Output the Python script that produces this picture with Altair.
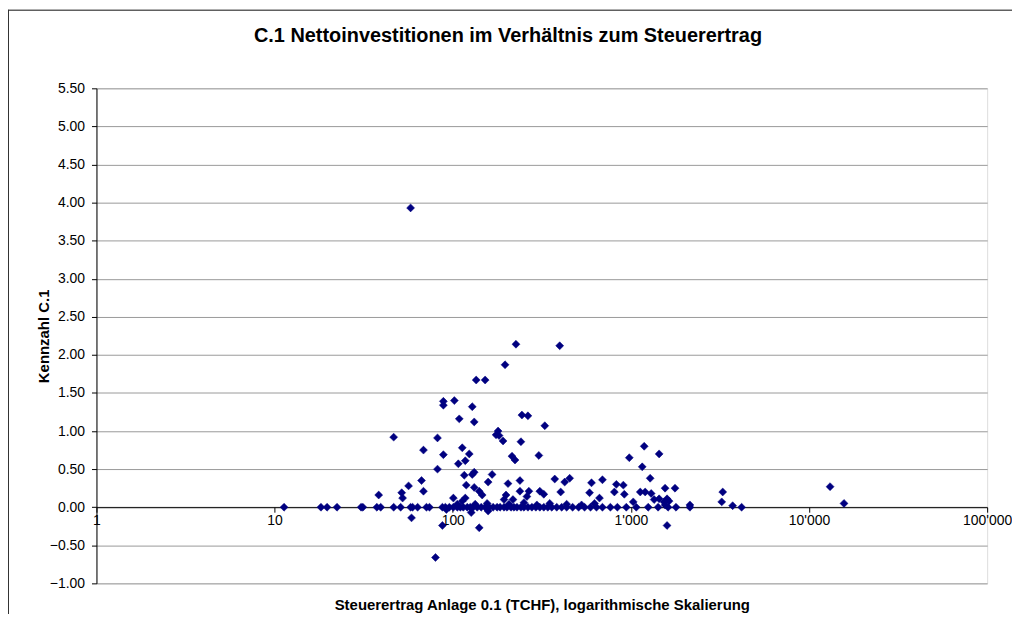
import altair as alt
import pandas as pd

# ---- data ----
# points lying on (or very near) the zero line: Steuerertrag (TCHF)
zero_ertrag = [11.3, 18.2, 19.7, 22.4, 30.6, 31.3, 37.5, 39.4, 46.6, 51.0, 58.0, 59.5, 63.5,
               71.2, 74.0, 87.5, 90.9, 95.7, 100.8, 106.1, 110.3, 114.6, 120.6, 125.4, 130.3,
               137.2, 144.4, 152.0, 160.0, 168.5, 177.4, 184.3, 194.1, 201.7, 212.3, 220.7,
               229.4, 241.4, 251.0, 264.2, 278.1, 292.8, 308.2, 324.5, 341.6, 359.6, 383.5,
               408.9, 436.0, 471.0, 508.8, 549.5, 593.5, 641.1, 692.4, 767.4, 839.8, 942.6,
               1072, 1251, 1422, 1617, 1792, 2145, 4184]
zero_kennzahl = [0.0] * len(zero_ertrag)

# other points: Steuerertrag (TCHF) and Kennzahl C.1
ertrag = [38.4, 46.6, 51.7, 52.3, 56.5, 58.7, 58.0, 66.8, 68.5, 68.5, 82.1, 82.1, 88.6, 88.6,
          88.6, 80.0, 87.5, 102.1, 108.8, 128.7, 132.0, 113.1, 123.8, 117.6, 107.5, 132.0,
          128.7, 116.1, 119.1, 135.4, 152.0, 175.1, 166.3, 158.0, 132.0, 140.8, 146.3, 100.8,
          113.1, 117.6, 140.8, 127.0, 226.4, 196.6, 244.5, 264.2, 328.7, 179.7, 182.0, 191.6,
          241.4, 215.1, 223.6, 304.3, 204.3, 238.3, 373.8, 453.3, 425.0, 199.1, 238.3, 267.6,
          308.2, 324.5, 260.8, 194.1, 217.8, 398.5, 403.6, 601.2, 692.4, 586.1, 666.3, 828.9,
          907.2, 807.9, 918.9, 979.7, 1188, 1158, 1441, 1283, 1129, 1203, 1031, 1300, 1351,
          1441, 1536, 1596, 1556, 1769, 1638, 1556, 2145, 1596, 3278, 3236, 3727, 13130, 15720,
          92.1, 158.0, 106.1, 133.7, 156.0, 206.9, 251.0, 296.6, 350.5, 436.0, 528.6, 625.0]
kennzahl = [0.16, 0.92, 0.19, 0.12, 0.28, -0.14, 3.93, 0.35, 0.21, 0.75, 0.91, 0.50, 0.69, 1.39,
            1.34, -0.66, -0.24, 1.40, 1.16, 1.32, 1.12, 0.78, 0.70, 0.61, 0.57, 0.46,
            0.43, 0.42, 0.29, 1.67, 1.67, 0.95, 0.43, 0.33, 0.26, 0.21, 0.16, 0.12,
            0.08, 0.12, -0.27, -0.07, 2.14, 1.87, 1.21, 1.20, 1.07, 1.00, 0.94, 0.87,
            0.86, 0.67, 0.62, 0.68, 0.31, 0.35, 0.37, 0.38, 0.33, 0.16, 0.21, 0.21,
            0.21, 0.17, 0.14, 0.10, 0.10, 2.12, 0.20, 0.32, 0.36, 0.19, 0.12, 0.30,
            0.29, 0.20, 0.17, 0.65, 0.80, 0.53, 0.70, 0.38, 0.20, 0.20, 0.07, 0.18, 0.10,
            0.11, 0.07, 0.11, 0.25, 0.25, 0.08, 0.03, 0.03, -0.24, 0.20, 0.07, 0.02, 0.27, 0.05,
            -0.03, -0.05, 0.04, 0.04, 0.05, 0.04, 0.06, 0.03, 0.05, 0.04, 0.03, 0.05]

x_ticks = [1, 10, 100, 1000, 10000, 100000]
y_ticks = [-1.0, -0.5, 0.0, 0.5, 1.0, 1.5, 2.0, 2.5, 3.0, 3.5, 4.0, 4.5, 5.0, 5.5]

TITLE = "C.1 Nettoinvestitionen im Verhältnis zum Steuerertrag"

df = pd.DataFrame({
    "Steuerertrag": zero_ertrag + ertrag,
    "Kennzahl": zero_kennzahl + kennzahl,
})

W, H = 896, 498
Y_MIN, Y_MAX = -1.0, 5.5
FONT = "Liberation Sans"
x_axis_offset = -H * (0 - Y_MIN) / (Y_MAX - Y_MIN)

label_expr = ("datum.value >= 1000 ? replace(format(datum.value, ','), ',', \"'\") "
              ": format(datum.value, 'd')")

points = alt.Chart(df).mark_point(
    shape="diamond", filled=True, size=64, color="#000080", opacity=1,
    stroke="#000080", strokeWidth=0.5,
).encode(
    x=alt.X("Steuerertrag:Q",
            scale=alt.Scale(type="log", domain=[1, 100000], nice=False),
            axis=alt.Axis(values=x_ticks, labelExpr=label_expr, offset=x_axis_offset,
                          grid=False, domainColor="black", tickColor="black", tickSize=5,
                          labelFont=FONT, labelFontSize=14, labelColor="black",
                          labelPadding=1, labelFlush=False, labelOverlap=False,
                          title="Steuerertrag Anlage 0.1 (TCHF), logarithmische Skalierung",
                          titleFont=FONT, titleFontSize=15, titleFontWeight="bold",
                          titleColor="black", titleY=98, titleBaseline="middle")),
    y=alt.Y("Kennzahl:Q",
            scale=alt.Scale(domain=[Y_MIN, Y_MAX], nice=False, zero=False),
            axis=alt.Axis(values=y_ticks, format=".2f", grid=True, gridColor="#999999",
                          gridWidth=1, domainColor="black", tickColor="black", tickSize=5,
                          labelFont=FONT, labelFontSize=14, labelColor="black",
                          labelPadding=7,
                          title="Kennzahl C.1", titleFont=FONT, titleFontSize=15,
                          titleFontWeight="bold", titleColor="black",
                          titleX=-53, titleY=H / 2, titleBaseline="middle")),
)

one_row = pd.DataFrame({"t": [TITLE]})
title_mark = alt.Chart(one_row).mark_text(
    font=FONT, fontSize=20, fontWeight="bold", color="black",
    align="center", baseline="middle",
).encode(text="t:N", x=alt.value(W / 2 - 34), y=alt.value(-53))

frame_top = alt.Chart(one_row).mark_rule(color="#606060", strokeWidth=1.5).encode(
    x=alt.value(-89), x2=alt.value(W + 40), y=alt.value(-78.5))
frame_left = alt.Chart(one_row).mark_rule(color="#303030", strokeWidth=1).encode(
    x=alt.value(-88.5), y=alt.value(-79), y2=alt.value(H + 40))

chart = alt.layer(points, title_mark, frame_top, frame_left).properties(
    width=W, height=H,
    autosize=alt.AutoSizeParams(type="none"),
    padding={"left": 89, "top": 79, "right": 25, "bottom": 29},
).configure_view(stroke="#808080", strokeWidth=1).configure(background="white")

chart.save("out.html", embed_options={"renderer": "svg", "actions": False})
